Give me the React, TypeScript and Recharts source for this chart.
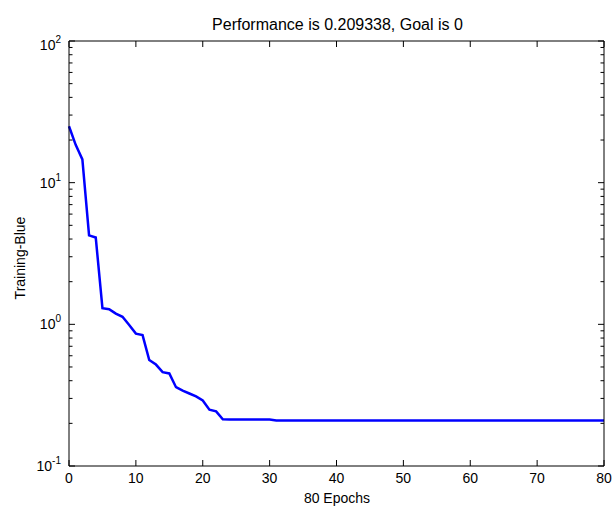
import { LineChart, Line, XAxis, YAxis } from 'recharts';

const FONT = '"Liberation Sans", Arial, sans-serif';

// training performance per epoch (0..80)
const perf = [
  25.0, 18.5, 14.6, 4.25, 4.1, 1.3, 1.28, 1.19, 1.13, 0.99,
  0.86, 0.84, 0.56, 0.52, 0.46, 0.45, 0.36, 0.34, 0.325, 0.31,
  0.29, 0.25, 0.243, 0.2135, 0.2133, 0.2132, 0.2131, 0.213, 0.2129, 0.2128,
  0.2127, 0.2095, 0.2094, 0.2094, 0.2094, 0.2094, 0.2094, 0.2094, 0.2094, 0.2094,
  0.2094, 0.2094, 0.2094, 0.2094, 0.2094, 0.2094, 0.2094, 0.2094, 0.2094, 0.2094,
  0.2094, 0.2094, 0.2094, 0.2094, 0.2094, 0.2094, 0.2094, 0.2094, 0.2094, 0.2094,
  0.2094, 0.2094, 0.2094, 0.2094, 0.2094, 0.2094, 0.2094, 0.2094, 0.2094, 0.2094,
  0.2093, 0.2093, 0.2093, 0.2093, 0.2093, 0.2093, 0.2093, 0.2093, 0.2093, 0.2093,
  0.209338,
];

const xTicks = [0, 10, 20, 30, 40, 50, 60, 70, 80];
const yTicks = [
  0.1, 0.2, 0.3, 0.4, 0.5, 0.6, 0.7, 0.8, 0.9,
  1, 2, 3, 4, 5, 6, 7, 8, 9,
  10, 20, 30, 40, 50, 60, 70, 80, 90,
  100,
];
const yMajor = [0.1, 1, 10, 100];

const rows = perf.map((v, i) => ({ epoch: i, perf: v }));

const exponent = (v: number) => Math.round(Math.log10(v));

function LeftTick(props: any) {
  const { x, y, payload } = props;
  const major = yMajor.includes(payload.value);
  const e = exponent(payload.value);
  return (
    <g>
      <line x1={x} x2={x + (major ? 6 : 3.5)} y1={y} y2={y} stroke="#000" strokeWidth={1} />
      {major && (
        <text x={x - 8} y={y + (payload.value === 100 ? 9 : 5)} textAnchor="end" fontSize={14} fontFamily={FONT} fill="#000">
          10<tspan dy={-7} fontSize={10}>{e}</tspan>
        </text>
      )}
    </g>
  );
}

function RightTick(props: any) {
  const { x, y, payload } = props;
  const major = yMajor.includes(payload.value);
  return <line x1={x} x2={x - (major ? 6 : 3.5)} y1={y} y2={y} stroke="#000" strokeWidth={1} />;
}

function BottomTick(props: any) {
  const { x, y, payload } = props;
  return (
    <g>
      <line x1={x} x2={x} y1={y} y2={y - 6} stroke="#000" strokeWidth={1} />
      <text x={x} y={y + 17} textAnchor="middle" fontSize={14} fontFamily={FONT} fill="#000">
        {payload.value}
      </text>
    </g>
  );
}

function TopTick(props: any) {
  const { x, y } = props;
  return <line x1={x} x2={x} y1={y} y2={y + 6} stroke="#000" strokeWidth={1} />;
}

export default function App() {
  return (
    <div style={{ position: 'absolute', left: 0, top: 0, width: 613, height: 506, background: '#fff' }}>
      <LineChart width={613} height={506} data={rows} margin={{ top: 0, right: 0, bottom: 0, left: 0 }}>
        <XAxis
          xAxisId="bottom" dataKey="epoch" type="number" domain={[0, 80]} ticks={xTicks} interval={0}
          height={40} tickSize={0} tickMargin={0} axisLine={{ stroke: '#000' }} tickLine={false} tick={<BottomTick />}
        />
        <XAxis
          xAxisId="top" orientation="top" dataKey="epoch" type="number" domain={[0, 80]} ticks={xTicks} interval={0}
          height={41} tickSize={0} tickMargin={0} axisLine={{ stroke: '#000' }} tickLine={false} tick={<TopTick />}
        />
        <YAxis
          yAxisId="left" scale="log" type="number" domain={[0.1, 100]} ticks={yTicks} interval={0} allowDataOverflow
          width={69} tickSize={0} tickMargin={0} axisLine={{ stroke: '#000' }} tickLine={false} tick={<LeftTick />}
        />
        <YAxis
          yAxisId="right" orientation="right" scale="log" type="number" domain={[0.1, 100]} ticks={yTicks} interval={0} allowDataOverflow
          width={9} tickSize={0} tickMargin={0} axisLine={{ stroke: '#000' }} tickLine={false} tick={<RightTick />}
        />
        <Line
          xAxisId="bottom" yAxisId="left" type="linear" dataKey="perf" stroke="#0000ff" strokeWidth={2.5}
          dot={false} isAnimationActive={false}
        />
      </LineChart>
      <svg width={613} height={506} style={{ position: 'absolute', left: 0, top: 0, pointerEvents: 'none' }}>
        <text x={337.5} y={30} textAnchor="middle" fontSize={16} fontFamily={FONT} fill="#000">
          Performance is 0.209338, Goal is 0
        </text>
        <text x={337} y={503} textAnchor="middle" fontSize={14} fontFamily={FONT} fill="#000">
          80 Epochs
        </text>
        <text x={25} y={258} transform="rotate(-90 25 258)" textAnchor="middle" fontSize={14} fontFamily={FONT} fill="#000">
          Training-Blue
        </text>
      </svg>
    </div>
  );
}
